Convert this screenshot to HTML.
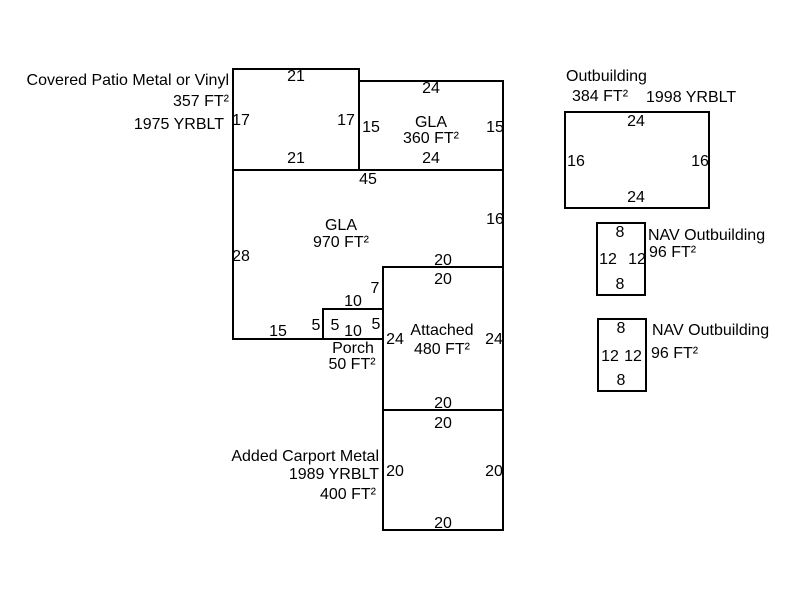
<!DOCTYPE html>
<html><head><meta charset="utf-8"><style>html,body{margin:0;padding:0;background:#fff}</style></head><body>
<svg width="800" height="600" xmlns="http://www.w3.org/2000/svg" font-family="Liberation Sans, Arial, sans-serif" font-size="16" fill="#000">
<g fill="none" stroke="#000" stroke-width="2">
<rect x="233" y="69" width="126" height="101"/>
<rect x="359" y="81" width="144" height="89"/>
<polyline points="233,170 503,170 503,267"/>
<polyline points="233,170 233,339 323,339"/>
<rect x="323" y="309" width="60" height="30"/>
<rect x="383" y="267" width="120" height="143"/>
<rect x="383" y="410" width="120" height="120"/>
<rect x="565" y="112" width="144" height="96"/>
<rect x="597" y="223" width="48" height="72"/>
<rect x="598" y="319" width="48" height="72"/>
</g>
<g text-anchor="middle">
<text x="296" y="81">21</text>
<text x="296" y="163">21</text>
<text x="241" y="125">17</text>
<text x="346" y="125">17</text>
<text x="431" y="93">24</text>
<text x="431" y="163">24</text>
<text x="371" y="132">15</text>
<text x="495" y="132">15</text>
<text x="431" y="127">GLA</text>
<text x="431" y="143">360 FT²</text>
<text x="368" y="184">45</text>
<text x="341" y="230">GLA</text>
<text x="341" y="247">970 FT²</text>
<text x="241" y="261">28</text>
<text x="495" y="224">16</text>
<text x="443" y="265">20</text>
<text x="443" y="284">20</text>
<text x="375" y="293">7</text>
<text x="353" y="306">10</text>
<text x="278" y="336">15</text>
<text x="316" y="330">5</text>
<text x="335" y="330">5</text>
<text x="376" y="329">5</text>
<text x="353" y="336">10</text>
<text x="353" y="353">Porch</text>
<text x="352" y="369">50 FT²</text>
<text x="395" y="344">24</text>
<text x="494" y="344">24</text>
<text x="442" y="335">Attached</text>
<text x="442" y="354">480 FT²</text>
<text x="443" y="408">20</text>
<text x="443" y="428">20</text>
<text x="395" y="476">20</text>
<text x="494" y="476">20</text>
<text x="443" y="528">20</text>
<text x="636" y="126">24</text>
<text x="636" y="202">24</text>
<text x="576" y="166">16</text>
<text x="700" y="166">16</text>
<text x="620" y="237">8</text>
<text x="620" y="289">8</text>
<text x="608" y="264">12</text>
<text x="637" y="264">12</text>
<text x="621" y="333">8</text>
<text x="621" y="385">8</text>
<text x="610" y="361">12</text>
<text x="633" y="361">12</text>
</g>
<g text-anchor="end">
<text x="229" y="85">Covered Patio Metal or Vinyl</text>
<text x="229" y="106">357 FT²</text>
<text x="224" y="129">1975 YRBLT</text>
<text x="379" y="461">Added Carport Metal</text>
<text x="379" y="479">1989 YRBLT</text>
<text x="376" y="499">400 FT²</text>
</g>
<text x="566" y="81">Outbuilding</text>
<text x="572" y="101">384 FT²</text>
<text x="646" y="102">1998 YRBLT</text>
<text x="648" y="240">NAV Outbuilding</text>
<text x="649" y="257">96 FT²</text>
<text x="652" y="335">NAV Outbuilding</text>
<text x="651" y="358">96 FT²</text>
</svg>
</body></html>
